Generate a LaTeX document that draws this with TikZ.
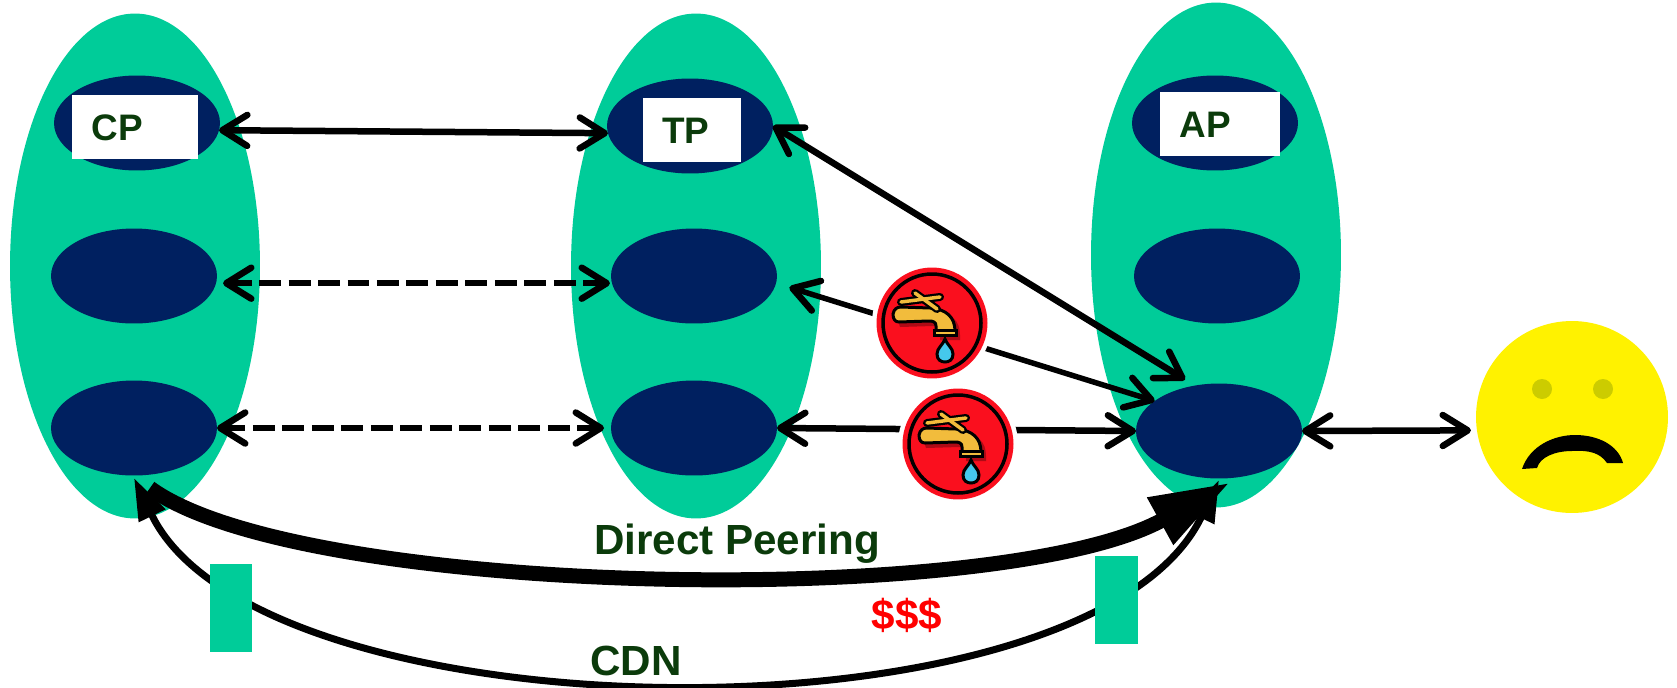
\documentclass[tikz,border=0pt]{standalone}
\usepackage{fontspec}
\setmainfont{Liberation Sans}
\usepackage{tikz}
\usetikzlibrary{arrows.meta,shapes.geometric}
\definecolor{tealgreen}{HTML}{00CC99}
\definecolor{navyblue}{HTML}{002060}
\definecolor{darkgreen}{HTML}{0B3B0B}
\definecolor{tapred}{HTML}{FA0F1E}
\definecolor{tapgold}{HTML}{F2BC3C}
\definecolor{tapdrop}{HTML}{45C8EC}
\definecolor{eyeolive}{HTML}{CCCC00}
\tikzset{
  faucet/.pic={
    \fill [tapred!70!black] (-35,-6) -- (-28,-10) -- (3,-11) .. controls (20,-10) and (28,-2) .. (28,12) -- (28,17) -- (8,17) -- (8,7) .. controls (8,4) and (5,3) .. (1,3) -- (-32,4) -- cycle;
    \draw [line width=.06cm, fill=tapgold] (-39,-9) .. controls (-38,-14) and (-35,-16) .. (-31,-16) -- (-2,-15) .. controls (14,-14) and (23,-6) .. (23,8) -- (4,8) -- (4,3) .. controls (4,-1) and (1,-2) .. (-3,-2) -- (-33,-1) .. controls (-37,-1) and (-39,-4) .. (-39,-9) -- cycle;
    \draw [line width=.06cm, fill=tapgold] (2,7) rectangle (24,12);
    \draw [line width=.16cm, line cap=round] (-31,-21) -- (8,-26);
    \draw [line width=.16cm, line cap=round] (-17,-30) -- (5,-14);
    \draw [line width=.07cm, line cap=round, tapgold] (-31,-21) -- (8,-26);
    \draw [line width=.07cm, line cap=round, tapgold] (-17,-30) -- (5,-14);
    \draw [line width=.06cm, fill=tapdrop] (13,16) .. controls (15,22) and (21,25) .. (21,31) .. controls (21,37) and (17,39) .. (13,39) .. controls (9,39) and (5,37) .. (5,31) .. controls (5,25) and (11,22) .. (13,16) -- cycle;
  }
}
\begin{document}
\begin{tikzpicture}[x=.02cm, y=-.02cm]
	\tikzstyle{every node} = [inner sep=0, outer sep=0]
	\tikzstyle{region}     = [ellipse, fill=tealgreen, minimum width=5cm, minimum height=10.1cm]
	\tikzstyle{tier}       = [ellipse, fill=navyblue, minimum width=3.32cm, minimum height=1.9cm]
	\tikzstyle{tag}        = [fill=white, minimum height=1.28cm]
	\tikzstyle{label}      = [text=darkgreen, font=\fontsize{21}{25}\selectfont\bfseries]
	\tikzstyle{biglabel}   = [text=darkgreen, font=\fontsize{24}{28}\selectfont\bfseries]
	\tikzstyle{peer}       = [line width=.13cm, {Straight Barb[round,length=.5cm,width=.62cm,line width=.13cm]}-{Straight Barb[round,length=.5cm,width=.62cm,line width=.13cm]}]
	\tikzstyle{broken}     = [dash pattern=on .44cm off .15cm]
	\tikzstyle{tapdisc}    = [circle, fill=tapred, minimum size=2.22cm]
	\tikzstyle{halo}       = [circle, fill=white, minimum size=2.4cm]
	\tikzstyle{block}      = [fill=tealgreen, minimum width=.86cm, minimum height=1.76cm]
	\useasboundingbox (0,0) rectangle (1677,687);
	\node [region] (cpRegion) at (135,266) {};
	\node [region] (tpRegion) at (696,266) {};
	\node [region] (apRegion) at (1216,255) {};
	\node [tier] (cpTop) at (137,123) {};
	\node [tier] (cpMid) at (134,276) {};
	\node [tier] (cpBot) at (134,428) {};
	\node [tier] (tpTop) at (690,126) {};
	\node [tier] (tpMid) at (694,276) {};
	\node [tier] (tpBot) at (694,428) {};
	\node [tier] (apTop) at (1215,123) {};
	\node [tier] (apMid) at (1217,276) {};
	\node [tier] (apBot) at (1219,431) {};
	\node [tag, minimum width=2.52cm] (cpTag) at (135,127) {};
	\node [tag, minimum width=1.96cm] (tpTag) at (692,130) {};
	\node [tag, minimum width=2.4cm]  (apTag) at (1220,124) {};
	\node [label] (cpText) at (117,128) {CP};
	\node [label] (tpText) at (686,131) {TP};
	\node [label] (apText) at (1205,125) {AP};
	\node [circle, fill=yellow, minimum size=3.84cm] (face) at (1572,417) {};
	\node [circle, fill=eyeolive, minimum size=.4cm] (eyeL) at (1542,389) {};
	\node [circle, fill=eyeolive, minimum size=.4cm] (eyeR) at (1603,389) {};
	\fill (1522,469) .. controls (1530,445) and (1555,435) .. (1575,435) .. controls (1598,435) and (1618,445) .. (1623,463) -- (1607,463) .. controls (1600,453) and (1590,450) .. (1572,451) .. controls (1555,451) and (1540,457) .. (1537,468) -- cycle;
	\draw [peer] (cpTop.-5) -- (tpTop.185);
	\draw [peer, broken, shorten <=.14cm, shorten >=.04cm] (cpMid.-5) -- (tpMid.185);
	\draw [peer, broken, shorten >=.14cm] (cpBot.east) -- (tpBot.west);
	\draw [peer] (tpTop.east) -- ([yshift=.16cm]apBot.128);
	\draw [peer, line width=.11cm, shorten <=.28cm] (tpMid.-5) -- (apBot.155);
	\draw [peer] (tpBot.east) -- (apBot.west);
	\draw [peer, shorten >=.12cm] (apBot.east) -- (face.188);
	\node [halo] (tapUpHalo) at (932,323) {};
	\node [halo] (tapLowHalo) at (958,444) {};
	\node [tapdisc] (tapUp) at (932,323) {};
	\node [tapdisc] (tapLow) at (958,444) {};
	\draw [line width=.07cm] (tapUp) circle (49);
	\draw [line width=.07cm] (tapLow) circle (49);
	\pic at (tapUp) {faucet};
	\pic at (tapLow) {faucet};
	\draw [line width=.14cm, {Triangle[length=.84cm,width=.56cm]}-{Triangle[length=.84cm,width=.56cm]}] ([yshift=-.05cm]cpBot.south) .. controls (260,740) and (1090,750) .. ([yshift=-.03cm]apBot.south);
	\draw [line width=.3cm, -{Triangle[length=1.6cm,width=1cm]}] ([shift={(.32cm,-.25cm)}]cpBot.south) .. controls (300,598) and (1000,610) .. ([shift={(.22cm,-.08cm)}]apBot.south);
	\node [block] (blockL) at (231,608) {};
	\node [block] (blockR) at (1116,600) {};
	\node [biglabel] (peering) at (737,544) {Direct Peering};
	\node [biglabel, text=red] (cost) at (907,615) {\$\$\$};
	\node [biglabel] (cdn) at (636,661) {CDN};
\end{tikzpicture}
\end{document}
